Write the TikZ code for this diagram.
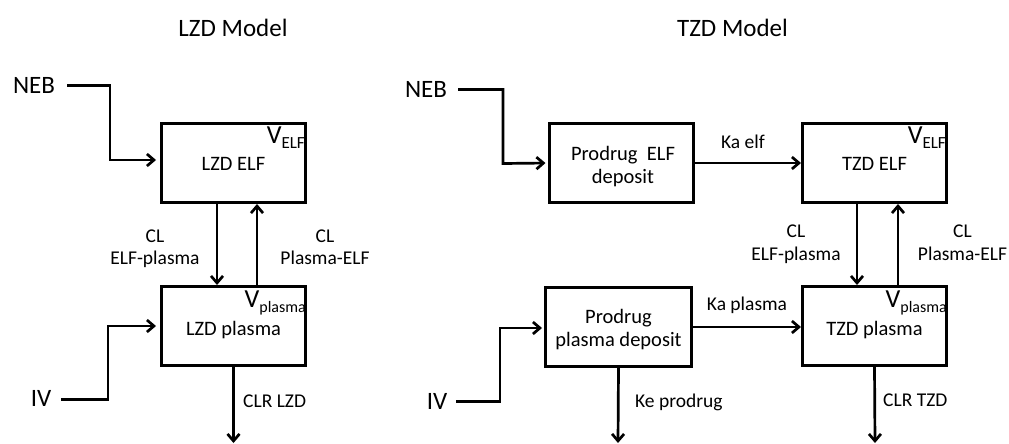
\documentclass[tikz,border=0pt]{standalone}
\usepackage{fontspec}
\setmainfont{Carlito}
\usetikzlibrary{arrows.meta}
\tikzset{
  box/.style={draw, line width=3pt, minimum width=144pt, minimum height=79pt, inner sep=0pt},
  conn/.style={line width=2.7pt, -{Straight Barb[length=7pt,width=12pt,line width=2.7pt]}},
  lab/.style={font=\fontsize{19.5}{23}\selectfont, inner sep=0pt},
  intxt/.style={font=\fontsize{20.5}{23}\selectfont, inner sep=0pt},
  big/.style={font=\fontsize{25}{28}\selectfont, inner sep=0pt},
  vlab/.style={font=\fontsize{26}{28}\selectfont, inner sep=0pt, anchor=north east},
}
\newcommand{\Vsub}[2]{V\raisebox{-5.5pt}{\fontsize{#1}{#1}\selectfont #2}}
\begin{document}
\begin{tikzpicture}[x=1pt,y=-1pt]
\useasboundingbox (0,0) rectangle (1009,444);

% titles
\node[big, anchor=base] (t1) at (233,37) {LZD Model};
\node[big, anchor=base] (t2) at (732.5,37) {TZD Model};

% ---------------- LZD model ----------------
\node[box] (le) at (233.5,163) {};
\node[box] (lp) at (233.5,326) {};
\node[intxt, anchor=base] (let) at (233.5,170) {LZD ELF};
\node[intxt, anchor=base] (lpt) at (233.5,335) {LZD plasma};
\node[vlab] (lev) at ([xshift=-2pt,yshift=-4.5pt]le.north east) {\Vsub{17}{ELF}};
\node[vlab] (lpv) at ([xshift=-1pt,yshift=-5.5pt]lp.north east) {\Vsub{16}{plasma}};

\node[big] (neb1) at (34,85.5) {NEB};
\node[big] (iv1) at (41,398) {IV};
\coordinate (ce1) at (233.5,443);

\draw[conn, shorten >=4pt] ([xshift=12pt]neb1.east) -- (110,85.5) -- (110,160) -- ([yshift=3pt]le.west);
\draw[conn, shorten >=4pt] ([xshift=10pt]iv1.east |- 0,399.5) -- (108,399.5) -- (108,326) -- (lp.west);
\draw[conn] ([xshift=-16.5pt]le.south) -- ([xshift=-16.5pt]lp.north);
\draw[conn] ([xshift=23.5pt]lp.north) -- ([xshift=23.5pt]le.south);
\draw[conn] (lp.south) -- (ce1);

\node[lab, anchor=base] (l1a) at (155,242) {CL};
\node[lab, anchor=base] (l1b) at (155,264) {ELF-plasma};
\node[lab, anchor=base] (l2a) at (325,242) {CL};
\node[lab, anchor=base] (l2b) at (325,264) {Plasma-ELF};
\node[lab, anchor=base west] (l3) at (243,407) {CLR LZD};

% ---------------- TZD model ----------------
\node[box] (pe) at (621,163) {};
\node[box, minimum width=146pt] (pp) at (618.5,326.5) {};
\node[box] (te) at (874.5,163) {};
\node[box] (tp) at (874.5,326) {};

\node[intxt, align=center] (pet) at ([xshift=2pt,yshift=-3.4pt]pe.center) {Prodrug~ ELF\\deposit};
\node[intxt, align=center] (ppt) at ([yshift=-3pt]pp.center) {Prodrug\\plasma deposit};
\node[intxt, anchor=base] (tet) at (874.5,170) {TZD ELF};
\node[intxt, anchor=base] (tpt) at (874.5,335) {TZD plasma};
\node[vlab] (tev) at ([xshift=-2pt,yshift=-4.5pt]te.north east) {\Vsub{17}{ELF}};
\node[vlab] (tpv) at ([xshift=-1pt,yshift=-5.5pt]tp.north east) {\Vsub{16}{plasma}};

\node[big] (neb2) at (426,89.5) {NEB};
\node[big] (iv2) at (437,401.5) {IV};
\coordinate (ce2) at (618,443);
\coordinate (ce3) at (875,443);

\draw[conn, shorten >=2pt] ([xshift=11pt]neb2.east) -- (503,89.5) -- (503,163.5) -- (pe.west);
\draw[conn, shorten >=2pt] ([xshift=9pt]iv2.east |- 0,401.5) -- (500,401.5) -- (500,328) -- ([yshift=-1.5pt]pp.west);
\draw[conn] (pe.east) -- (te.west);
\draw[conn] ([yshift=-0.5pt]pp.east) -- ([yshift=-1pt]tp.west);
\draw[conn] ([xshift=-17.5pt]te.south) -- ([xshift=-17.5pt]tp.north);
\draw[conn] ([xshift=23.5pt]tp.north) -- ([xshift=23.5pt]te.south);
\draw[conn] (pp.south) -- (ce2);
\draw[conn] (tp.south) -- (ce3);

\node[lab, anchor=base] (k1) at (743,148) {Ka elf};
\node[lab, anchor=base] (k2) at (747,310) {Ka plasma};
\node[lab, anchor=base west] (k3) at (635,407) {Ke prodrug};
\node[lab, anchor=base west] (k4) at (883,406) {CLR TZD};
\node[lab, anchor=base] (l4a) at (796,237) {CL};
\node[lab, anchor=base] (l4b) at (796,260) {ELF-plasma};
\node[lab, anchor=base] (l5a) at (962.5,237) {CL};
\node[lab, anchor=base] (l5b) at (962.5,260) {Plasma-ELF};
\end{tikzpicture}
\end{document}
